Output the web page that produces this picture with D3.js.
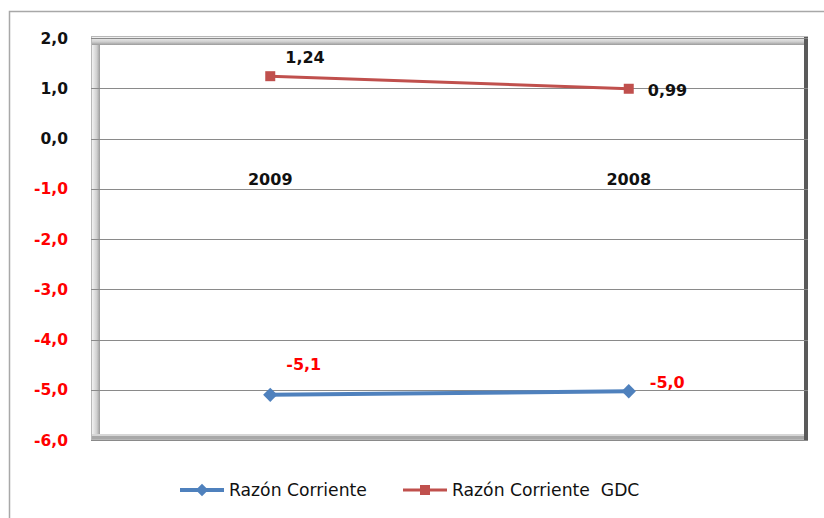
<!DOCTYPE html>
<html>
<head>
<meta charset="utf-8">
<script src="https://cdn.jsdelivr.net/npm/d3@7"></script>
<style>
  body { margin: 0; background: #fff; }
  text { font-family: 'DejaVu Sans', sans-serif; }
</style>
</head>
<body>
<svg width="824" height="518"></svg>
<script>
// data
const years = ['2009', '2008'];
const razonCorriente = [-5.1, -5.03];
const razonCorrienteGDC = [1.24, 0.99];
const razonLabels = ['-5,1', '-5,0'];
const gdcLabels = ['1,24', '0,99'];
const yTicks = [2, 1, 0, -1, -2, -3, -4, -5, -6];
const legendNames = ['Razón Corriente', 'Razón Corriente  GDC'];

const svg = d3.select('svg');
const blue = '#4f81bd';
const red = '#c0504d';

// outer chart border (runs off right & bottom)
svg.append('rect')
   .attr('x', 9.5).attr('y', 11.5)
   .attr('width', 830).attr('height', 520)
   .style('fill', 'none')
   .style('stroke', '#a8a8a8')
   .style('stroke-width', '1.5px');

let x = d3.scaleBand().domain(years).range([91, 808]);
let y = d3.scaleLinear().domain([-6, 2]).range([440, 38]);

// 3d wall frame
let defs = svg.append('defs');
let gl = defs.append('linearGradient').attr('id', 'bevL').attr('x1', '0%').attr('x2', '100%');
gl.append('stop').attr('offset', '0%').attr('stop-color', '#f2f2f2');
gl.append('stop').attr('offset', '60%').attr('stop-color', '#cfcfcf');
gl.append('stop').attr('offset', '100%').attr('stop-color', '#9a9a9a');
let gt = defs.append('linearGradient').attr('id', 'bevT').attr('x1', '0%').attr('x2', '0%').attr('y1', '0%').attr('y2', '100%');
gt.append('stop').attr('offset', '0%').attr('stop-color', '#f2f2f2');
gt.append('stop').attr('offset', '60%').attr('stop-color', '#cfcfcf');
gt.append('stop').attr('offset', '100%').attr('stop-color', '#9a9a9a');

let frame = svg.append('g');
frame.append('rect')
     .attr('x', 91.5).attr('y', 36.5).attr('width', 716).attr('height', 403)
     .style('fill', '#fff').style('stroke', '#b8b8b8');
frame.append('rect')
     .attr('x', 92).attr('y', 37).attr('width', 8).attr('height', 400)
     .style('fill', 'url(#bevL)');
frame.append('rect')
     .attr('x', 92).attr('y', 37).attr('width', 712).attr('height', 8)
     .style('fill', 'url(#bevT)');
// floor / right edge
frame.append('rect')
     .attr('x', 92).attr('y', 434).attr('width', 716).attr('height', 5)
     .style('fill', '#a8a8a8');
frame.append('rect')
     .attr('x', 92).attr('y', 434).attr('width', 716).attr('height', 2)
     .style('fill', '#d6d6d6');
frame.append('rect')
     .attr('x', 804).attr('y', 37).attr('width', 4).attr('height', 403)
     .style('fill', '#5a5a5a');

// gridlines
svg.append('g').selectAll('line')
   .data(yTicks)
   .enter()
   .append('line')
   .attr('x1', 91).attr('x2', 808)
   .attr('y1', d => Math.round(y(d)) + 0.5)
   .attr('y2', d => Math.round(y(d)) + 0.5)
   .style('stroke', '#8a8a8a')
   .style('stroke-width', '1.2px');

// y tick labels
const fmt = d => d3.format('.1f')(d).replace('.', ',').replace('−', '-');
svg.append('g').selectAll('text')
   .data(yTicks)
   .enter()
   .append('text')
   .text(fmt)
   .attr('x', 68)
   .attr('y', d => y(d) + 5.5)
   .style('text-anchor', 'end')
   .style('font-size', '15.5px')
   .style('font-weight', 'bold')
   .style('fill', d => d < 0 ? '#ff0000' : '#111');

// category labels sit below the zero line
svg.append('g').selectAll('text')
   .data(years)
   .enter()
   .append('text')
   .text(d => d)
   .attr('x', d => x(d) + x.bandwidth() / 2)
   .attr('y', y(0) + 46)
   .style('text-anchor', 'middle')
   .style('font-size', '16px')
   .style('font-weight', 'bold')
   .style('fill', '#111');

const cx = d => x(d) + x.bandwidth() / 2;
let line = d3.line().x((d, i) => cx(years[i])).y(d => y(d));

// Razón Corriente GDC (red, squares)
svg.append('path')
   .datum(razonCorrienteGDC)
   .attr('d', line)
   .style('fill', 'none').style('stroke', red).style('stroke-width', '3px');
svg.append('g').selectAll('rect')
   .data(razonCorrienteGDC)
   .enter()
   .append('rect')
   .attr('x', (d, i) => cx(years[i]) - 5)
   .attr('y', d => y(d) - 5)
   .attr('width', 10).attr('height', 10)
   .style('fill', red);

// Razón Corriente (blue, diamonds)
svg.append('path')
   .datum(razonCorriente)
   .attr('d', line)
   .style('fill', 'none').style('stroke', blue).style('stroke-width', '4px');
svg.append('g').selectAll('path')
   .data(razonCorriente)
   .enter()
   .append('path')
   .attr('d', d3.symbol().type(d3.symbolDiamond2).size(130))
   .attr('transform', (d, i) => `translate(${cx(years[i])}, ${y(d)})`)
   .style('fill', blue);

// data labels, offsets from their point
const labelOffsets = {gdc: [[15, -13], [19, 7.5]], rc: [[16, -25], [21, -3.5]]};
svg.append('g').selectAll('text')
   .data(razonCorrienteGDC)
   .enter()
   .append('text')
   .text((d, i) => gdcLabels[i])
   .attr('x', (d, i) => cx(years[i]) + labelOffsets.gdc[i][0])
   .attr('y', (d, i) => y(d) + labelOffsets.gdc[i][1])
   .style('font-size', '16px').style('font-weight', 'bold').style('fill', '#111');
svg.append('g').selectAll('text')
   .data(razonCorriente)
   .enter()
   .append('text')
   .text((d, i) => razonLabels[i])
   .attr('x', (d, i) => cx(years[i]) + labelOffsets.rc[i][0])
   .attr('y', (d, i) => y(d) + labelOffsets.rc[i][1])
   .style('font-size', '16px').style('font-weight', 'bold').style('fill', '#ff0000');

// legend
let leg = svg.append('g').attr('transform', 'translate(180, 490)');
const legX = [0, 223];
const legG = leg.selectAll('g')
   .data(legendNames)
   .enter()
   .append('g')
   .attr('transform', (d, i) => `translate(${legX[i]}, 0)`);
legG.append('line')
    .attr('x1', 0).attr('x2', 44).attr('y1', 0).attr('y2', 0)
    .style('stroke', (d, i) => i == 0 ? blue : red)
    .style('stroke-width', (d, i) => i == 0 ? '4px' : '3px');
legG.filter((d, i) => i == 0).append('path')
    .attr('d', d3.symbol().type(d3.symbolDiamond2).size(100))
    .attr('transform', 'translate(22, 0)')
    .style('fill', blue);
legG.filter((d, i) => i == 1).append('rect')
    .attr('x', 17).attr('y', -5).attr('width', 10).attr('height', 10)
    .style('fill', red);
legG.append('text')
    .text(d => d)
    .attr('x', 49)
    .attr('y', 6)
    .style('font-size', '17.2px')
    .style('fill', '#111')
    .style('white-space', 'pre');
</script>
</body>
</html>
